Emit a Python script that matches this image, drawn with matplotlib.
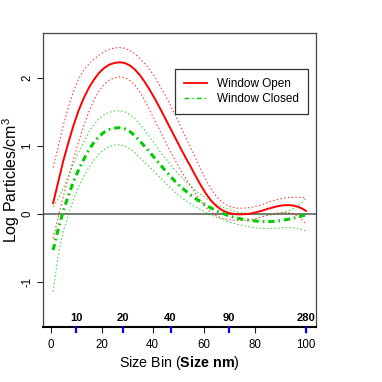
import matplotlib
matplotlib.use("Agg")
import matplotlib.pyplot as plt
from matplotlib.lines import Line2D

plt.rcParams['font.family'] = ['Liberation Sans', 'DejaVu Sans']
plt.rcParams['mathtext.fontset'] = 'custom'
plt.rcParams['mathtext.rm'] = 'Liberation Sans'
plt.rcParams['mathtext.it'] = 'Liberation Sans:italic'
plt.rcParams['mathtext.bf'] = 'Liberation Sans:bold'
plt.rcParams['lines.scale_dashes'] = False

# ---- data ----
size_bin = [1, 3, 5, 7, 9, 11, 13, 15, 17, 19, 21, 23, 25, 27, 29, 31, 33, 35, 37, 39,
            41, 43, 45, 47, 49, 51, 53, 55, 57, 59, 61, 63, 65, 67, 69, 71, 73, 75, 77,
            79, 81, 83, 85, 87, 89, 91, 93, 95, 97, 99, 100]

open_fit = [0.16, 0.47, 0.78, 1.05, 1.30, 1.52, 1.70, 1.85, 1.97, 2.07, 2.14, 2.19, 2.215,
            2.225, 2.215, 2.18, 2.12, 2.035, 1.93, 1.81, 1.68, 1.54, 1.395, 1.25, 1.105,
            0.96, 0.82, 0.685, 0.545, 0.41, 0.29, 0.19, 0.115, 0.06, 0.025, 0.005, -0.005,
            -0.005, 0.0, 0.01, 0.03, 0.05, 0.075, 0.095, 0.115, 0.127, 0.13, 0.125, 0.105,
            0.07, 0.045]
open_upper = [0.68, 0.99, 1.30, 1.57, 1.80, 1.98, 2.11, 2.20, 2.27, 2.33, 2.38, 2.415, 2.435,
              2.44, 2.43, 2.40, 2.35, 2.28, 2.20, 2.11, 2.00, 1.87, 1.735, 1.59, 1.435,
              1.28, 1.12, 0.965, 0.805, 0.64, 0.49, 0.36, 0.255, 0.18, 0.13, 0.10, 0.085,
              0.085, 0.09, 0.10, 0.12, 0.14, 0.17, 0.195, 0.215, 0.232, 0.24, 0.245, 0.245,
              0.24, 0.235]
open_lower = [-0.36, -0.05, 0.26, 0.53, 0.80, 1.06, 1.29, 1.50, 1.67, 1.81, 1.90, 1.965, 1.995,
              2.01, 2.00, 1.96, 1.89, 1.79, 1.66, 1.51, 1.36, 1.21, 1.055, 0.91, 0.775,
              0.64, 0.52, 0.405, 0.285, 0.18, 0.09, 0.02, -0.025, -0.06, -0.08, -0.09, -0.095,
              -0.095, -0.09, -0.08, -0.06, -0.04, -0.02, -0.005, 0.015, 0.022, 0.02, 0.005,
              -0.035, -0.10, -0.145]

closed_fit = [-0.53, -0.22, 0.05, 0.27, 0.48, 0.65, 0.80, 0.94, 1.05, 1.14, 1.20, 1.24, 1.26,
              1.265, 1.25, 1.21, 1.15, 1.07, 0.985, 0.90, 0.81, 0.72, 0.635, 0.55, 0.47,
              0.40, 0.335, 0.275, 0.22, 0.17, 0.125, 0.085, 0.045, 0.015, -0.015, -0.04,
              -0.06, -0.075, -0.087, -0.097, -0.105, -0.11, -0.112, -0.11, -0.103, -0.092,
              -0.078, -0.062, -0.044, -0.022, -0.01]
closed_upper = [0.11, 0.22, 0.38, 0.56, 0.74, 0.90, 1.05, 1.20, 1.31, 1.40, 1.455, 1.49, 1.51,
                1.515, 1.50, 1.46, 1.40, 1.315, 1.22, 1.12, 1.015, 0.91, 0.815, 0.72, 0.63,
                0.55, 0.475, 0.405, 0.34, 0.28, 0.23, 0.185, 0.14, 0.105, 0.075, 0.05, 0.03,
                0.015, 0.008, 0.003, -0.005, -0.01, -0.012, -0.01, 0.002, 0.018, 0.042,
                0.078, 0.126, 0.188, 0.23]
closed_lower = [-1.14, -0.60, -0.25, -0.01, 0.22, 0.40, 0.55, 0.68, 0.79, 0.88, 0.945, 0.99,
                1.01, 1.015, 1.00, 0.96, 0.90, 0.825, 0.75, 0.68, 0.605, 0.53, 0.455, 0.38,
                0.31, 0.25, 0.195, 0.145, 0.10, 0.06, 0.02, -0.015, -0.05, -0.075, -0.105,
                -0.13, -0.15, -0.165, -0.182, -0.197, -0.205, -0.21, -0.212, -0.21, -0.208,
                -0.202, -0.198, -0.202, -0.214, -0.232, -0.25]

size_nm_pos = [10, 28.4, 47, 69.7, 100]
size_nm_labels = ["10", "20", "40", "90", "280"]

x_ticks = [0, 20, 40, 60, 80, 100]
y_ticks = [-1, 0, 1, 2]

series_names = ['Window Open', 'Window Closed']

# ---- figure ----
fig = plt.figure(figsize=(3.82, 3.82), dpi=100)
ax = fig.add_axes([43/382, 1-327/382, 273/382, 294/382])

red = '#FF0000'
green = '#00CD00'
dot = (1.1, 1.6)
dashdot = (4.5, 2.8, 1.2, 2.8)

ax.axhline(0, color='#555555', lw=1.1, zorder=1)

ax.plot(size_bin, open_upper, color=red, lw=0.8, dashes=dot, alpha=0.75)
ax.plot(size_bin, open_lower, color=red, lw=0.8, dashes=dot, alpha=0.75)
ax.plot(size_bin, closed_upper, color=green, lw=0.8, dashes=dot, alpha=0.75)
ax.plot(size_bin, closed_lower, color=green, lw=0.8, dashes=dot, alpha=0.75)
ax.plot(size_bin, open_fit, color=red, lw=1.4)
ax.plot(size_bin, closed_fit, color=green, lw=2.2, dashes=dashdot, dash_capstyle='butt')

ax.set_xlim(-2.96, 103.96)
ax.set_ylim(-1.657, 2.654)

ax.set_xticks(x_ticks)
ax.set_yticks(y_ticks)
ax.set_yticklabels([str(v) for v in y_ticks], rotation=90, va='center')
ax.tick_params(axis='both', direction='out', length=4.3, width=0.8, color='#222222',
               labelsize=8.3)
ax.tick_params(axis='x', pad=4)
ax.tick_params(axis='y', pad=2.5)

for s in ['top', 'right', 'left']:
    ax.spines[s].set_color('#444444')
    ax.spines[s].set_linewidth(0.9)
ax.spines['bottom'].set_color('black')
ax.spines['bottom'].set_linewidth(1.5)

# blue size ticks along bottom axis
for p, lab in zip(size_nm_pos, size_nm_labels):
    ax.plot([p, p], [0.004, -0.022], transform=ax.get_xaxis_transform(), color='blue',
            lw=1.6, clip_on=False, solid_capstyle='butt', zorder=5)
    ax.text(p, 0.012, lab, transform=ax.get_xaxis_transform(), ha='center', va='bottom',
            fontsize=8, fontweight='bold')

ax.set_ylabel('Log Particles/cm$^{3}$', fontsize=11.5)
ax.yaxis.set_label_coords(-0.077, 0.5)
ax.set_xlabel(r'Size Bin ($\mathbf{Size\ nm}$)', fontsize=10.3)
ax.xaxis.set_label_coords(0.5, -0.092)

handles = [Line2D([], [], color=red, lw=1.3),
           Line2D([], [], color=green, lw=1.0, dashes=(3.5, 2.2, 1.0, 2.2))]
leg = ax.legend(handles, series_names, loc='upper right', bbox_to_anchor=(0.971, 0.878),
                borderaxespad=0, fontsize=8.5, frameon=True, fancybox=False,
                edgecolor='#333333', framealpha=1, handlelength=1.9,
                handletextpad=0.9, borderpad=0.75, labelspacing=0.25)
leg.get_frame().set_linewidth(0.9)

fig.savefig('out.png', dpi=100)
